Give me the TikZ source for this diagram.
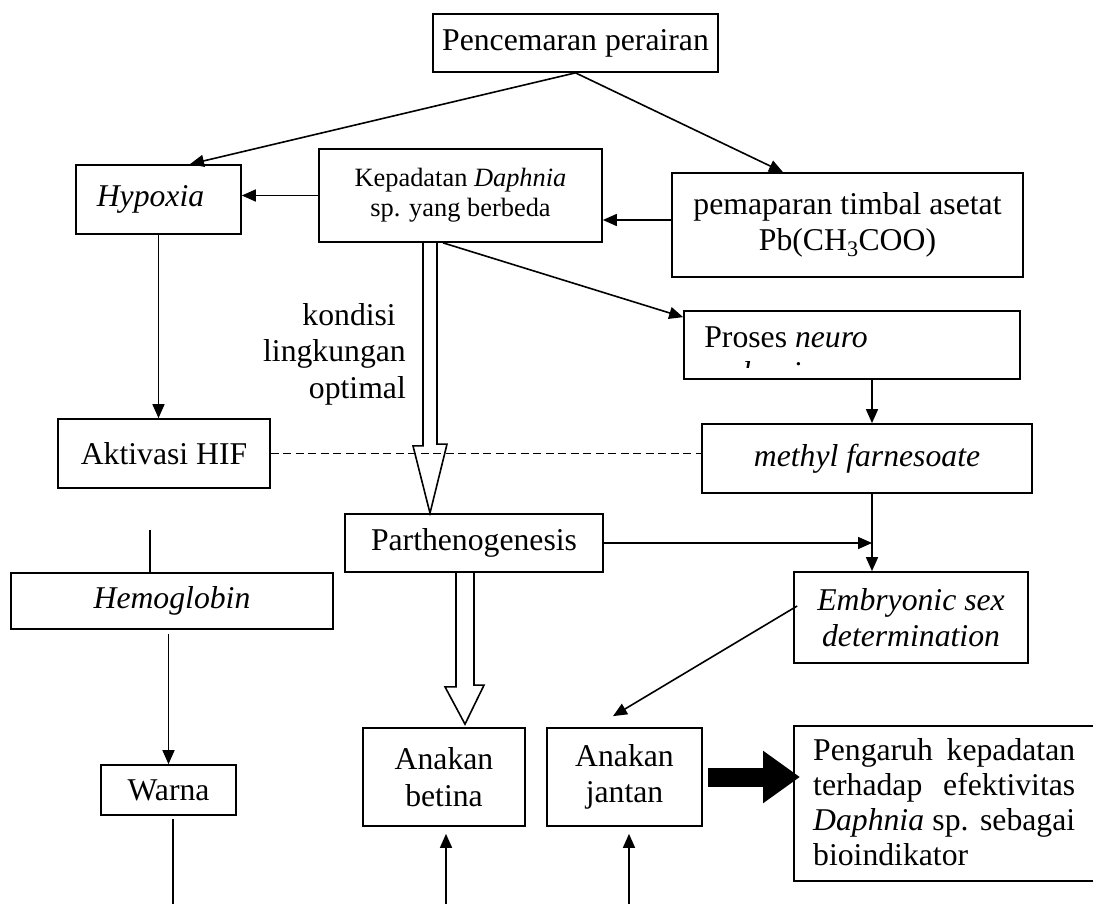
\documentclass[tikz,border=0pt]{standalone}
\usepackage{fontspec}
\setmainfont{Liberation Serif}
\usetikzlibrary{arrows.meta,calc}

\begin{document}
\begin{tikzpicture}[x=1pt,y=-1pt,
  big/.style={font=\fontsize{31.7}{36.5}\selectfont},
  small/.style={font=\fontsize{26.4}{30}\selectfont},
  box/.style={draw, line width=1.7pt, inner sep=0pt, align=center, big},
  arr/.style={line width=1.6pt, -{Triangle[length=14pt,width=12pt]}},
  line/.style={line width=1.6pt},
  hollow/.style={line width=1.6pt, line join=miter}]
\clip (0,0) rectangle (1093,904);
\node[box, minimum width=285pt, minimum height=58pt] (pol) at (575.5,43) {Pencemaran perairan};
\node[box, minimum width=165pt, minimum height=69pt] (hyp) at (158.5,199.5) {\textit{Hypoxia}\hspace*{16pt}};
\node[box, small, minimum width=283pt, minimum height=93pt] (kep) at (460.5,195.5) {Kepadatan \textit{Daphnia}\\ sp. yang berbeda};
\node[box, minimum width=351pt, minimum height=104pt] (pem) at (847.5,225) {pemaparan timbal asetat\\ Pb(CH\textsubscript{3}COO)};
\node[big, anchor=north east, align=right, inner sep=0pt] (kon) at (406,303) {kondisi\hspace*{10pt}\\ lingkungan\\ optimal};
\node[box, minimum width=212pt, minimum height=69pt] (hif) at (164,453.5) {Aktivasi HIF};
\node[box, minimum width=336pt, minimum height=68pt] (neu) at (852,345) {};
\node[box, minimum width=330pt, minimum height=69pt] (mfa) at (867,458.5) {\textit{methyl farnesoate}};
\node[box, minimum width=258pt, minimum height=58pt] (par) at (474,543) {Parthenogenesis};
\node[box, minimum width=234pt, minimum height=91pt] (emb) at (911,617.5) {\textit{Embryonic sex}\\ \textit{determination}};
\node[box, minimum width=322pt, minimum height=56pt] (hem) at (172,601) {\textit{Hemoglobin}};
\node[box, minimum width=135pt, minimum height=50pt] (war) at (168.5,790) {Warna};
\node[box, minimum width=162pt, minimum height=98pt] (bet) at (444,777) {Anakan\\ betina};
\node[box, minimum width=155pt, minimum height=98pt] (jan) at (624.5,777) {Anakan\\ jantan};
\node[box, minimum width=330pt, minimum height=155pt, anchor=north west] (pen) at (793,725) {};
\node[anchor=north west, inner sep=0pt, text width=262pt, align=justify, font=\fontsize{31.7}{35}\selectfont] (pentext) at ($(pen.north west)+(20,13)$)
  {Pengaruh kepadatan\linebreak terhadap efektivitas\linebreak \textit{Daphnia} sp. sebagai\linebreak bioindikator};
\begin{scope}
\clip (neu.north west) rectangle ($(neu.south east)+(0,-12)$);
\node[big, anchor=north west, inner sep=0pt, align=left] (neutext) at ($(neu.north west)+(21,16)$) {Proses \textit{neuro}\\ \textit{endocrine}};
\end{scope}

\coordinate (v) at (872,0);
\coordinate (h1) at (150,530);
\coordinate (w1) at (173,904);
\coordinate (b1) at (446,904);
\coordinate (j1) at (629,904);

\draw[arr] (pol.south) -- ([xshift=31.5pt]hyp.north);
\draw[arr] (pol.south) -- ([xshift=-64.5pt]pem.north);
\draw[arr] (kep.west) -- (kep.west -| hyp.east);
\draw[arr] ([yshift=5pt]pem.west) coordinate (p1) -- (p1 -| kep.east);
\draw[arr] (hyp.south) -- (hyp.south |- hif.north);
\draw[line, dash pattern=on 8pt off 4.5pt] (hif.east) -- (hif.east -| mfa.west);
\draw[arr] ([xshift=-17.5pt]kep.south) -- ([yshift=-7pt]neu.north west);
\draw[arr] (neu.south -| v) -- (mfa.north -| v);
\draw[arr] (mfa.south -| v) -- (emb.north -| v);
\draw[arr] (par.east) -- (par.east -| v);
\draw[arr] ([xshift=4pt,yshift=11.5pt]emb.west) -- ([xshift=-11.5pt,yshift=11pt]jan.north);
\draw[hollow] ([xshift=-37.5pt]kep.south) -- ++(0,203) -- ++(-10,0) -- ([xshift=-44pt]par.north)
  -- ++(17,-69) -- ++(-10,0) -- ([xshift=-23.5pt]kep.south);
\draw[hollow] ([xshift=-18pt]par.south) -- ++(0,114) -- ++(-11,0) -- ([xshift=21pt,yshift=3pt]bet.north)
  -- ++(19,-39) -- ++(-10,0) -- ([xshift=0pt]par.south);
\draw[line width=19pt, -{Triangle[length=37pt,width=50pt]}] ([xshift=5pt]jan.east) -- ($(jan.east -| pen.west)+(7,0)$);
\draw[line] (h1) -- (h1 |- hem.north);
\draw[arr] (war.north |- hem.south) ++(0,4) -- (war.north);
\draw[line] (w1 |- war.south) ++(0,3) -- (w1);
\draw[arr] (b1) -- ($(b1 |- bet.south)+(0,7)$);
\draw[arr] (j1) -- ($(j1 |- jan.south)+(0,7)$);
\end{tikzpicture}
\end{document}
